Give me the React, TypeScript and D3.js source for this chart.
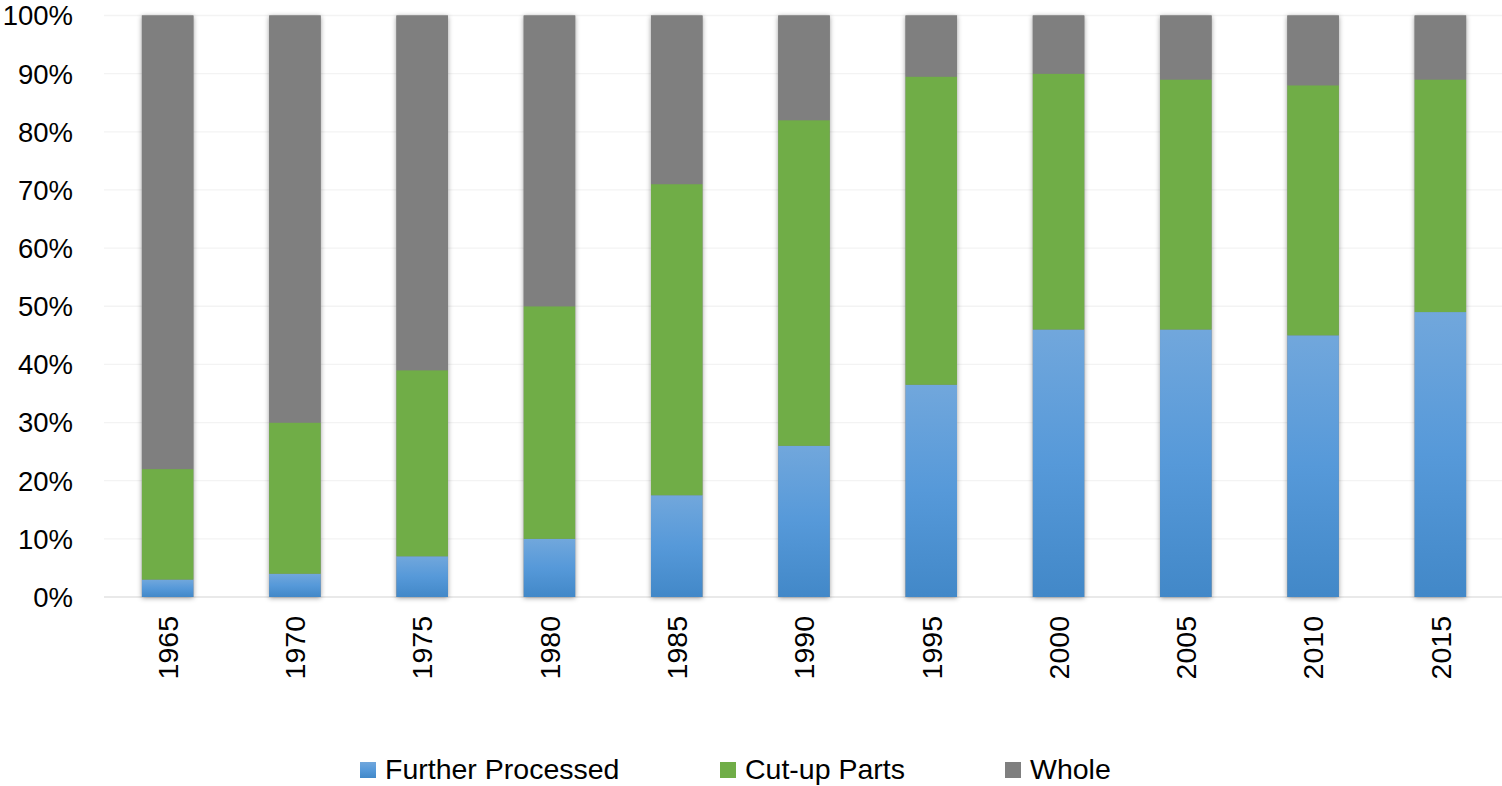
import React from "react";
import * as d3 from "d3";

const years = ["1965","1970","1975","1980","1985","1990","1995","2000","2005","2010","2015"];
const furtherProcessed = [3, 4, 7, 10, 17.5, 26, 36.5, 46, 46, 45, 49];
const cutUpParts = [19, 26, 32, 40, 53.5, 56, 53, 44, 43, 43, 40];
const whole = years.map((_, i) => 100 - furtherProcessed[i] - cutUpParts[i]);
const seriesNames = ["Further Processed", "Cut-up Parts", "Whole"];
const yTicks = [0, 10, 20, 30, 40, 50, 60, 70, 80, 90, 100];

const W = 1502, H = 786;
const FONT = "'Liberation Sans', Arial, sans-serif";

export default function App() {
  const x = d3.scaleBand<string>().domain(years).range([104, 1504]).paddingInner(0.595).paddingOuter(0.2975);
  const y = d3.scaleLinear().domain([0, 100]).range([597, 15.5]);
  const rows = years.map((yr, i) => ({ yr, fp: furtherProcessed[i], cp: cutUpParts[i], wh: whole[i] }));
  const stack = d3.stack<any>().keys(["fp", "cp", "wh"])(rows);
  const fills = ["url(#blueGrad)", "#70ad47", "#7f7f7f"];
  const legendFills = ["url(#blueGrad)", "#70ad47", "#7f7f7f"];
  const legendX = [360, 720, 1005];
  const bw = x.bandwidth();

  return (
    <svg width={W} height={H} style={{ position: "absolute", left: 0, top: 0, background: "#fff" }} fontFamily={FONT}>
      <defs>
        <linearGradient id="blueGrad" x1="0" y1="0" x2="0" y2="1">
          <stop offset="0%" stopColor="#71a7dc" />
          <stop offset="50%" stopColor="#5699d9" />
          <stop offset="100%" stopColor="#4288c8" />
        </linearGradient>
        <filter id="shadow" x="-30%" y="-5%" width="160%" height="110%">
          <feDropShadow dx="0" dy="1" stdDeviation="2.5" floodColor="#000" floodOpacity="0.4" />
        </filter>
      </defs>
      {yTicks.map(t => (
        <g key={t}>
          <line x1={104} x2={1502} y1={y(t)} y2={y(t)} stroke={t === 0 ? "#e2e2e2" : "#f3f3f3"} strokeWidth={1.3} />
          <text x={73} y={y(t)} dy="0.36em" textAnchor="end" fontSize={27.5} fill="#000">{t}%</text>
        </g>
      ))}
      <g filter="url(#shadow)">
        {years.map((yr, i) => (
          <rect key={yr} x={x(yr)!} width={bw} y={y(100)} height={y(0) - y(100)} fill="#7f7f7f" />
        ))}
      </g>
      {stack.map((s, si) => (
        <g key={si}>
          {s.map((d, i) => (
            <rect key={i} x={x(years[i])!} width={bw} y={y(d[1])} height={y(d[0]) - y(d[1])} fill={fills[si]} />
          ))}
        </g>
      ))}
      {years.map(yr => (
        <text key={yr} transform={`translate(${x(yr)! + bw / 2},616) rotate(-90)`} textAnchor="end" dy="0.36em" fontSize={28.5} fill="#000">{yr}</text>
      ))}
      {seriesNames.map((n, i) => (
        <g key={n}>
          <rect x={legendX[i]} y={762} width={16} height={16} fill={legendFills[i]} />
          <text x={legendX[i] + 25} y={779} fontSize={28.5} fill="#000">{n}</text>
        </g>
      ))}
    </svg>
  );
}
